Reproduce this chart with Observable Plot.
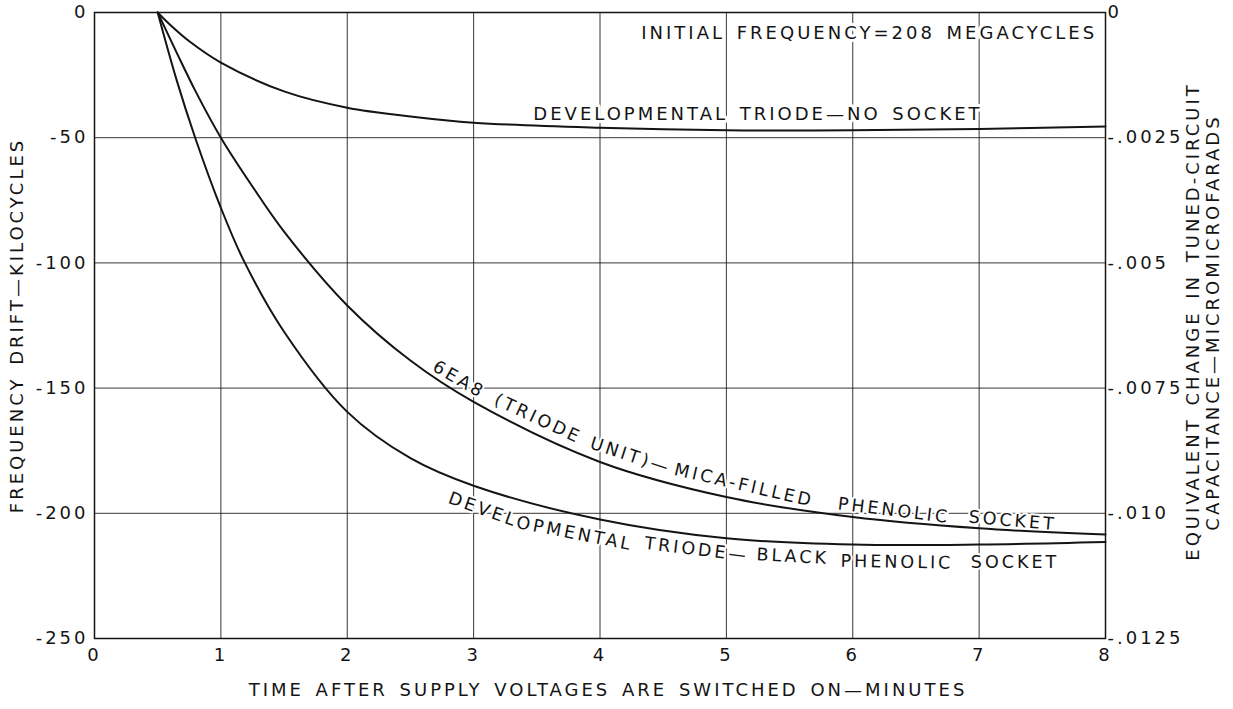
<!DOCTYPE html>
<html><head><meta charset="utf-8">
<script src="https://cdn.jsdelivr.net/npm/d3@7"></script>
<script src="https://cdn.jsdelivr.net/npm/@observablehq/plot@0.6"></script>
<style>
html,body{margin:0;padding:0;background:#fff;}
#chart svg text{letter-spacing:3px;word-spacing:3px;}
</style></head><body><div id="chart"></div>
<script>
// ---- data ----
const xTicks = [0, 1, 2, 3, 4, 5, 6, 7, 8];
const yTicks = [0, -50, -100, -150, -200, -250];
const yTickLabels = ["0", "-50", "-100", "-150", "-200", "-250"];
const capTickLabels = ["0", "-.0025", "-.005", "-.0075", "-.010", "-.0125"];

const noSocketT = [0.5, 0.6, 0.75, 1, 1.5, 2, 2.5, 3, 4, 5, 6, 7, 8];
const noSocketV = [0, -5, -11.5, -20, -31.5, -38, -41.5, -44, -46, -47, -47, -46.5, -45.5];

const micaT = [0.5, 0.65, 0.8, 1, 1.25, 1.5, 2, 2.5, 3, 4, 5, 6, 7, 8];
const micaV = [0, -16, -31.5, -50, -69.5, -87.5, -117, -139, -155.5, -179.5, -193.5, -201.5, -206, -208.5];

const blackT = [0.5, 0.65, 0.8, 1, 1.18, 1.5, 2, 2.5, 3, 4, 5, 6, 7, 8];
const blackV = [0, -27, -50.5, -78, -99, -127.5, -159.5, -178, -189, -202.5, -210, -212.5, -212.5, -211.5];

const topNotes = ["INITIAL FREQUENCY=208 MEGACYCLES", "DEVELOPMENTAL TRIODE—NO SOCKET"];
const topNoteT = [6.13, 5.25];
const topNoteV = [-8.2, -40.7];

const micaWords = ["6EA8", "(TRIODE", "UNIT)—", "MICA-FILLED", "PHENOLIC", "SOCKET"];
const micaWordT = [2.885, 3.51, 4.242, 5.14, 6.326, 7.265];
const micaWordV = [-146.6, -162.2, -177.0, -188.8, -198.9, -203.0];
const micaWordAngle = [30, 25, 18, 13, 7, 5];

const blackWords = ["DEVEL", "OPMENTAL", "TRIODE—", "BLACK", "PHENOLIC", "SOCKET"];
const blackWordT = [3.076, 3.80, 4.765, 5.525, 6.35, 7.284];
const blackWordV = [-198.5, -208.1, -214.5, -217.3, -219.5, -219.5];
const blackWordAngle = [19.5, 11, 7, 3, 1, 0];

const xTitle = "TIME AFTER SUPPLY VOLTAGES ARE SWITCHED ON—MINUTES";
const yTitle = "FREQUENCY DRIFT—KILOCYCLES";
const y2Title1 = "EQUIVALENT CHANGE IN TUNED-CIRCUIT";
const y2Title2 = "CAPACITANCE—MICROMICROFARADS";

// ---- tables ----
const series = (T, V) => T.map((t, i) => ({t, v: V[i]}));
const words = (W, T, V, A) => W.map((w, i) => ({w, t: T[i], v: V[i], a: A ? A[i] : 0}));

const ink = "#141414";
const font = "DejaVu Sans";
const title = {fontSize: 18, fill: ink, textAnchor: "middle", lineAnchor: "middle"};

const chart = Plot.plot({
  width: 1233,
  height: 709,
  marginLeft: 94,
  marginRight: 128,
  marginTop: 12,
  marginBottom: 71,
  x: {domain: [0, 8]},
  y: {domain: [-250, 0]},
  style: {fontFamily: font, fontSize: "18px", color: ink, background: "white"},
  marks: [
    Plot.gridX(xTicks, {stroke: ink, strokeOpacity: 0.85, strokeWidth: 1}),
    Plot.gridY(yTicks, {stroke: ink, strokeOpacity: 0.85, strokeWidth: 1}),
    Plot.frame({stroke: ink, strokeWidth: 1.5}),
    Plot.text(words(topNotes, topNoteT, topNoteV), {x: "t", y: "v", text: "w", fontSize: 18, fill: ink, stroke: "white", strokeWidth: 6}),
    Plot.text(words(micaWords, micaWordT, micaWordV, micaWordAngle), {x: "t", y: "v", text: "w", rotate: "a", fontSize: 17.5, fill: ink, stroke: "white", strokeWidth: 4}),
    Plot.text(words(blackWords, blackWordT, blackWordV, blackWordAngle), {x: "t", y: "v", text: "w", rotate: "a", fontSize: 17.5, fill: ink, stroke: "white", strokeWidth: 4}),
    Plot.line(series(noSocketT, noSocketV), {x: "t", y: "v", curve: "catmull-rom", stroke: ink, strokeWidth: 2}),
    Plot.line(series(micaT, micaV), {x: "t", y: "v", curve: "catmull-rom", stroke: ink, strokeWidth: 2}),
    Plot.line(series(blackT, blackV), {x: "t", y: "v", curve: "catmull-rom", stroke: ink, strokeWidth: 2}),
    Plot.axisX({ticks: xTicks, tickSize: 0, tickPadding: 10, label: null, tickFormat: d => String(d)}),
    Plot.axisY({anchor: "left", ticks: yTicks, tickSize: 0, tickPadding: 6, label: null, tickFormat: d => yTickLabels[yTicks.indexOf(d)]}),
    Plot.axisY({anchor: "right", ticks: yTicks, tickSize: 0, tickPadding: 2, label: null, tickFormat: d => capTickLabels[yTicks.indexOf(d)]}),
    Plot.text([xTitle], {...title, frameAnchor: "bottom", dx: 8, dy: 52}),
    Plot.text([yTitle], {...title, frameAnchor: "left", dx: -77, rotate: -90}),
    Plot.text([y2Title1], {...title, frameAnchor: "right", dx: 88, dy: -4, rotate: -90}),
    Plot.text([y2Title2], {...title, frameAnchor: "right", dx: 108, dy: -3, rotate: -90})
  ]
});
document.getElementById("chart").appendChild(chart);
</script>
</body></html>
